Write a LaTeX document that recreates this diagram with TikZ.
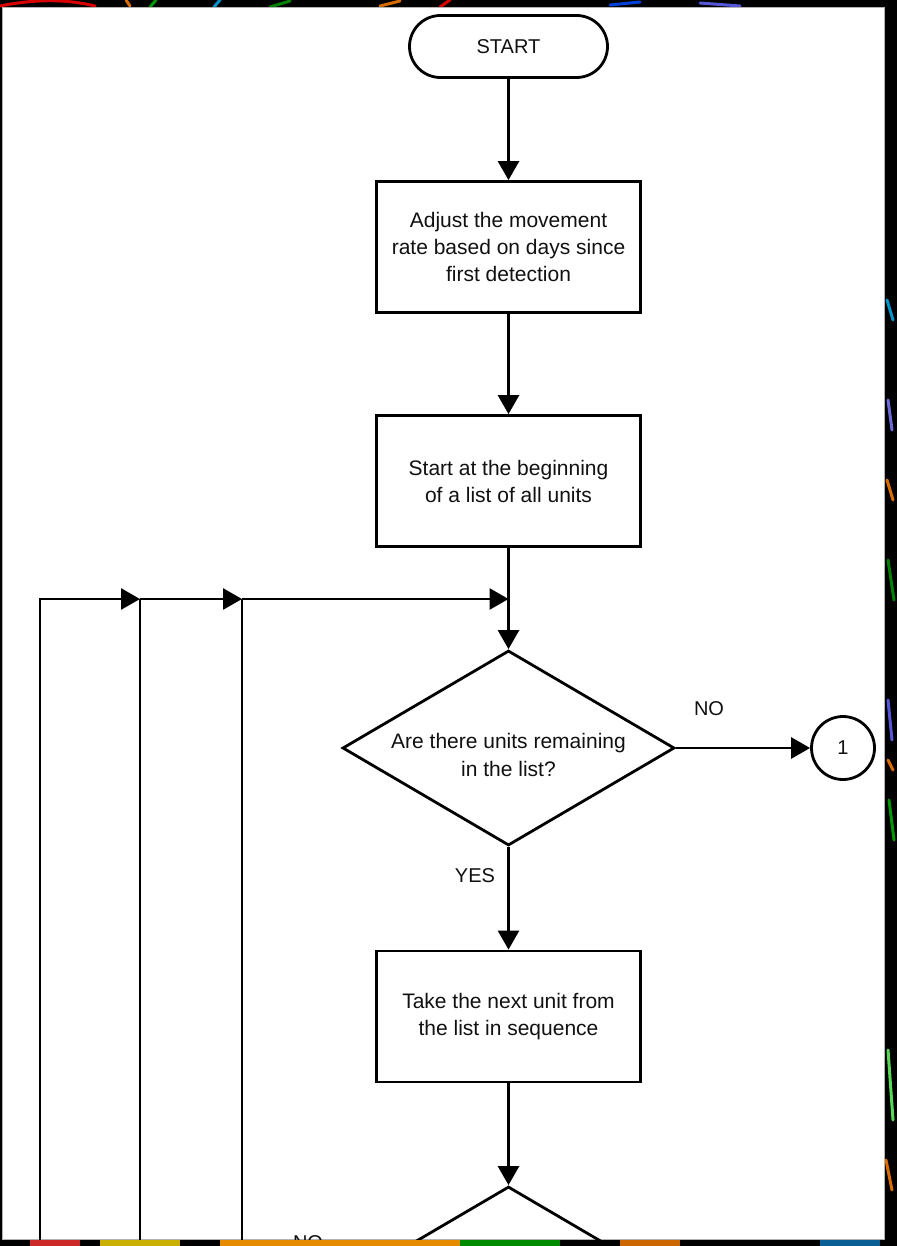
\documentclass[tikz,border=0pt]{standalone}
\usepackage{fontspec}
\setmainfont{Liberation Sans}
\usetikzlibrary{shapes.geometric,arrows.meta}
\definecolor{txt}{HTML}{111111}
\begin{document}
\begin{tikzpicture}[x=1pt,y=-1pt,
  conn/.style={line width=2.8pt,-{Triangle[length=19pt,width=21pt]}},
  plain/.style={line width=2.8pt},
  procbox/.style={draw,line width=2.8pt,minimum width=264pt,minimum height=131pt,
    align=center,inner sep=0pt,text=txt,font=\fontsize{21}{27}\selectfont},
  termbox/.style={draw,line width=2.8pt,rectangle,rounded corners=31pt,
    minimum width=198pt,minimum height=62pt,inner sep=0pt,text=txt,font=\fontsize{20}{24}\selectfont},
  decbox/.style={draw,line width=2.8pt,diamond,minimum width=332pt,minimum height=195pt,
    inner sep=0pt,text width=10pt},
  decText/.style={align=center,text=txt,font=\fontsize{21}{28}\selectfont},
  connector/.style={draw,line width=2.8pt,circle,minimum size=63pt,inner sep=0pt,
    text=txt,font=\fontsize{20}{24}\selectfont},
  lbl/.style={text=txt,font=\fontsize{20}{24}\selectfont,inner sep=0pt},
  deco/.style={line width=3pt,line cap=round,opacity=0.85}
]
\useasboundingbox (0,0) rectangle (897,1246);
% dark frame with coloured light streaks
\fill[black] (0,0) rectangle (897,1246);
\draw[deco,red] (0,6) .. controls (40,-2) and (70,0) .. (95,6);
\draw[deco,orange] (126,0) -- (130,6);
\draw[deco,green!70!black] (150,7) -- (156,0);
\draw[deco,cyan] (214,7) -- (220,0);
\draw[deco,green!60!black] (270,7) -- (290,1);
\draw[deco,orange] (380,6) -- (400,1);
\draw[deco,red] (440,7) -- (450,0);
\draw[deco,blue!70!cyan] (610,5) -- (640,2);
\draw[deco,blue!60] (700,3) -- (740,6);
\draw[deco,orange] (887,480) -- (893,500);
\draw[deco,green!60!black] (888,560) -- (894,600);
\draw[deco,blue!60] (888,700) -- (892,740);
\draw[deco,orange] (888,760) -- (893,770);
\draw[deco,green!70!black] (889,800) -- (894,840);
\draw[deco,cyan] (887,300) -- (893,320);
\draw[deco,blue!50] (888,400) -- (892,430);
\draw[deco,green!60] (888,1050) -- (893,1120);
\draw[deco,orange] (886,1160) -- (892,1190);
\draw[line width=6pt,orange!80!yellow,opacity=0.9] (220,1243) -- (460,1243);
\draw[line width=6pt,green!60!black,opacity=0.9] (460,1243) -- (560,1243);
\draw[line width=6pt,orange,opacity=0.8] (620,1243) -- (680,1243);
\draw[line width=6pt,red!80,opacity=0.8] (30,1243) -- (80,1243);
\draw[line width=6pt,yellow!80!orange,opacity=0.8] (100,1243) -- (180,1243);
\draw[line width=6pt,cyan!70!blue,opacity=0.7] (820,1243) -- (880,1243);
% white page
\fill[white] (2,8) rectangle (884,1239);
\draw[gray!60,line width=1pt] (2,8) rectangle (884,1239);
\begin{scope}
\clip (2,8) rectangle (884,1239);
% nodes
\node[termbox] (start) at (508.5,46.5) {START};
\node[procbox] (adj) at (508.5,247) {Adjust the movement\\rate based on days since\\first detection};
\node[procbox] (begin) at (508.5,481) {Start at the beginning\\of a list of all units};
\node[decbox] (rem) at (508.5,748) {};
\node[decText] (remtxt) at (508.5,755) {Are there units remaining\\in the list?};
\node[connector] (c1) at (843,748) {1};
\node[procbox] (next) at (508.5,1016.5) {Take the next unit from\\the list in sequence};
\node[decbox] (dec2) at (508.5,1284) {};
\node[lbl] (no1) at (709,709) {NO};
\node[lbl] (yes1) at (475,876) {YES};
\node[lbl] (no2) at (308,1243) {NO};
% loop-back coordinates
\coordinate (loopA) at (40,1260);
\coordinate (loopB) at (140,1260);
\coordinate (loopC) at (242,1260);
\coordinate (jA) at (140,599);
\coordinate (jB) at (242,599);
\coordinate (jC) at (508.5,599);
% connectors
\draw[conn] (start) -- (adj);
\draw[conn] (adj) -- (begin);
\draw[conn] (begin) -- (rem.north);
\draw[conn] (loopA) |- (jA);
\draw[plain] (loopB) -- (jA);
\draw[conn] (jA) -- (jB);
\draw[plain] (loopC) -- (jB);
\draw[conn] (jB) -- (jC);
\draw[conn] (rem.east) -- (c1);
\draw[conn] (rem.south) -- (next);
\draw[conn] (next) -- (dec2.north);
\end{scope}
\end{tikzpicture}
\end{document}
